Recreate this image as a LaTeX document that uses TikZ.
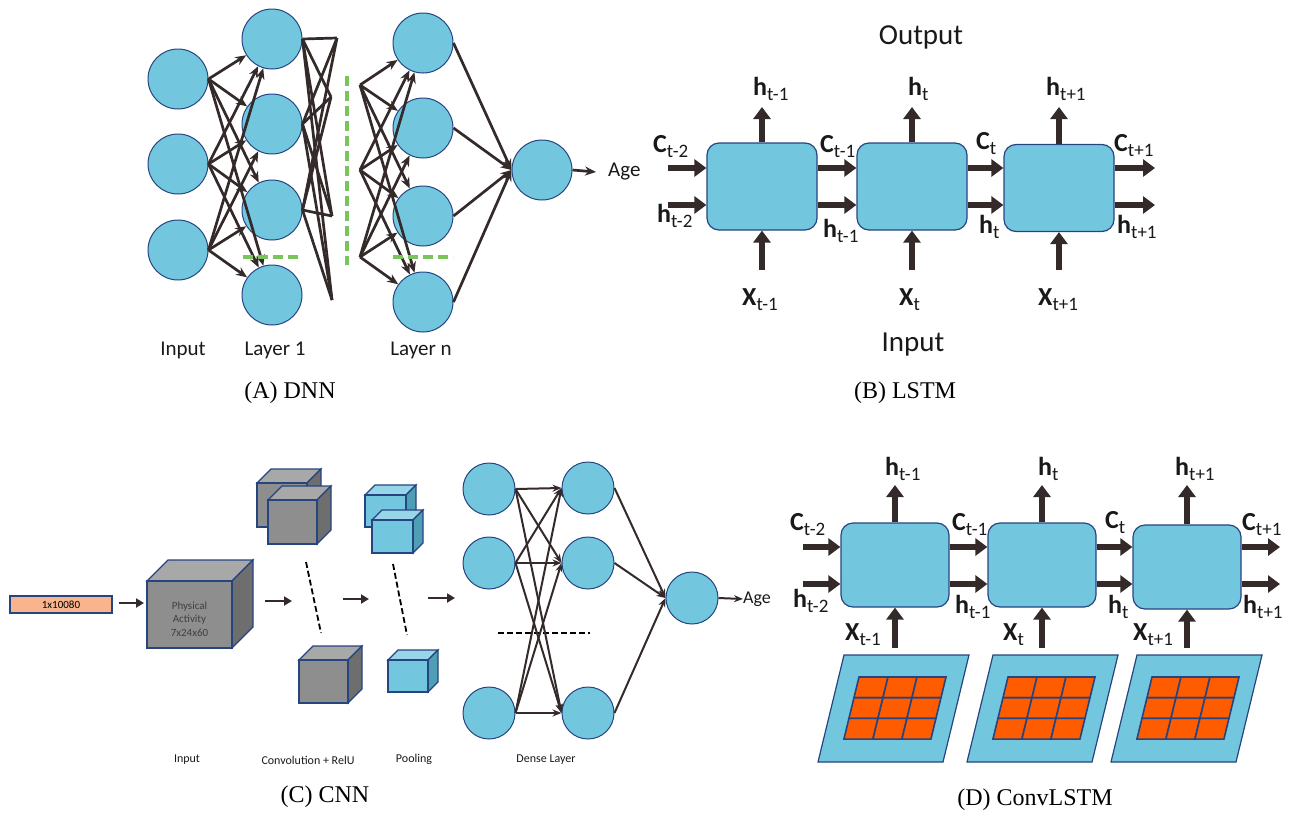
\documentclass[tikz,border=0pt]{standalone}
\usepackage{fontspec}
\setmainfont{Liberation Serif}
\newfontfamily\calib{Carlito}
\usetikzlibrary{arrows.meta,calc}
\definecolor{nodeblue}{RGB}{114,199,223}
\definecolor{nodeborder}{RGB}{38,68,128}
\definecolor{arrowc}{RGB}{52,42,42}
\definecolor{greendash}{RGB}{122,196,92}
\definecolor{cellorange}{RGB}{255,92,0}
\definecolor{peach}{RGB}{248,180,140}
\definecolor{cubefront}{RGB}{142,142,142}
\definecolor{cubetop}{RGB}{168,168,168}
\definecolor{cubeside}{RGB}{110,110,110}
\definecolor{pooltop}{RGB}{150,214,232}
\definecolor{poolside}{RGB}{78,158,182}
\definecolor{cubetext}{RGB}{64,64,64}
\newcommand\sbl[2]{{\bfseries #1}\raisebox{-5pt}{\fontsize{19}{19}\selectfont #2}}
% #1 x, #2 y (front top-left), #3 w, #4 h, #5 depth, #6 front, #7 top, #8 side
\newcommand\drawcube[8]{%
  \filldraw[fill=#7,draw=nodeborder,line width=1.2pt] (#1,#2) -- ++(#5,-#5) -- ++(#3,0) -- ++(-#5,#5) -- cycle;
  \filldraw[fill=#8,draw=nodeborder,line width=1.2pt] ({#1+#3},#2) -- ++(#5,-#5) -- ++(0,#4) -- ++(-#5,#5) -- cycle;
  \filldraw[fill=#6,draw=nodeborder,line width=1.2pt] (#1,#2) rectangle ++(#3,#4);
}
\begin{document}
\begin{tikzpicture}[x=1pt,y=-1pt,
  neuron/.style={circle,draw=nodeborder,fill=nodeblue,line width=1pt,minimum size=60pt,inner sep=0pt},
  neuronS/.style={neuron,minimum size=52pt},
  dnnarr/.style={draw=arrowc,line width=2.7pt,-{Stealth[length=11pt,width=9pt]}},
  dnnline/.style={draw=arrowc,line width=2.7pt},
  cnnarr/.style={draw=arrowc,line width=2pt,-{Stealth[length=9pt,width=7pt]}},
  stagearr/.style={draw=arrowc,line width=2.6pt,-{Triangle[length=8pt,width=9pt]}},
  gdash/.style={draw=greendash,line width=3.5pt,dash pattern=on 10pt off 5pt},
  kdash/.style={draw=black,line width=1.8pt,dash pattern=on 6pt off 3pt},
  lstmbox/.style={draw=nodeborder,fill=nodeblue,rounded corners=12pt,line width=1.2pt,minimum width=110pt,minimum height=87pt,inner sep=0pt},
  clstmbox/.style={lstmbox,minimum width=108pt,minimum height=84pt},
  bigarr/.style={draw=arrowc,line width=6pt,-{Triangle[length=12pt,width=17pt]}},
  lab/.style={font=\calib\fontsize{26}{26}\selectfont,anchor=base west,inner sep=0pt,text=black!90},
  dlab/.style={font=\calib\fontsize{21}{21}\selectfont,inner sep=0pt,text=black!90},
  bigtxt/.style={font=\calib\fontsize{29}{29}\selectfont,inner sep=0pt,text=black!90},
  smalltxt/.style={font=\calib\fontsize{12}{12}\selectfont,inner sep=0pt,text=black!90},
  captxt/.style={font=\fontsize{24}{24}\selectfont,inner sep=0pt,text=black}
]
\useasboundingbox (0,0) rectangle (1293,817);

% ================= (A) DNN =================
\node[neuron] (i1) at (178,79) {};
\node[neuron] (i2) at (178,164) {};
\node[neuron] (i3) at (178,250) {};
\node[neuron] (l1) at (272,39) {};
\node[neuron] (l2) at (272,124) {};
\node[neuron] (l3) at (272,210) {};
\node[neuron] (l4) at (272,295) {};
\node[neuron] (n1) at (423,43) {};
\node[neuron] (n2) at (423,128) {};
\node[neuron] (n3) at (423,216) {};
\node[neuron] (n4) at (423,302) {};
\node[neuron] (o) at (542,170) {};
\coordinate (e1) at (337,38);
\coordinate (e2) at (331,97);
\coordinate (e3) at (332,216);
\coordinate (e4) at (332,300);
\coordinate (s1) at (360,85);
\coordinate (s2) at (360,170);
\coordinate (s3) at (360,257);
\foreach \a in {1,2,3} \foreach \b in {1,2,3,4} \draw[dnnarr] (i\a.east) -- (l\b);
\foreach \a in {1,2,3} \foreach \b in {1,2,3,4} \draw[dnnline] (l\a.east) -- (e\b);
\foreach \a in {1,2,3} \foreach \b in {1,2,3,4} \draw[dnnarr] (s\a) -- (n\b);
\foreach \b in {1,2,3,4} \draw[dnnarr] (n\b.east) -- (o.west);
\node[dlab,anchor=west] (age1) at (608,172) {Age};
\draw[dnnarr] (o.east) -- ($(age1.west)+(-12,0)$);
\draw[gdash] (243,257) -- (302,257);
\draw[gdash] (393,257) -- (453,257);
\draw[gdash] (347,76) -- (347,265);
\node[dlab] (tin) at (183,350) {Input};
\node[dlab] (tl1) at (275,350) {Layer 1};
\node[dlab] (tln) at (421,350) {Layer n};
\node[captxt] (capA) at (290,393) {(A) DNN};

% ================= (B) LSTM =================
\node[lstmbox] (b1) at (762,186.5) {};
\node[lstmbox] (b2) at (912,186.5) {};
\node[lstmbox] (b3) at (1059,188) {};
\coordinate (Lc0) at (668,168);
\coordinate (Lh0) at (668,205);
\coordinate (Lc4) at (1155,168);
\coordinate (Lh4) at (1155,205);
\coordinate (Ltop) at (0,107);
\coordinate (Lbot) at (0,270);
\draw[bigarr] (Lc0) -- (b1.west |- Lc0);
\draw[bigarr] (Lh0) -- (b1.west |- Lh0);
\draw[bigarr] (b1.east |- Lc0) -- (b2.west |- Lc0);
\draw[bigarr] (b1.east |- Lh0) -- (b2.west |- Lh0);
\draw[bigarr] (b2.east |- Lc0) -- (b3.west |- Lc0);
\draw[bigarr] (b2.east |- Lh0) -- (b3.west |- Lh0);
\draw[bigarr] (b3.east |- Lc0) -- (Lc4);
\draw[bigarr] (b3.east |- Lh0) -- (Lh4);
\foreach \b in {b1,b2,b3} {
  \draw[bigarr] (\b.north) -- (\b.north |- Ltop);
  \draw[bigarr] (\b.south |- Lbot) -- (\b.south);
}
\node[lab] (Bh1) at (753,95) {\sbl{h}{t-1}};
\node[lab] (Bh2) at (908,95) {\sbl{h}{t}};
\node[lab] (Bh3) at (1046,95) {\sbl{h}{t+1}};
\node[lab] (Bc0) at (653,152) {\sbl{C}{t-2}};
\node[lab] (Bhh0) at (657,222) {\sbl{h}{t-2}};
\node[lab] (Bc1) at (820,152) {\sbl{C}{t-1}};
\node[lab] (Bhh1) at (823,237) {\sbl{h}{t-1}};
\node[lab] (Bc2) at (976,149) {\sbl{C}{t}};
\node[lab] (Bhh2) at (979,233) {\sbl{h}{t}};
\node[lab] (Bc3) at (1114,151) {\sbl{C}{t+1}};
\node[lab] (Bhh3) at (1117,233) {\sbl{h}{t+1}};
\node[lab] (Bx1) at (742,305) {\sbl{X}{t-1}};
\node[lab] (Bx2) at (899,305) {\sbl{X}{t}};
\node[lab] (Bx3) at (1038,305) {\sbl{X}{t+1}};
\node[bigtxt] (tout) at (921,37) {Output};
\node[bigtxt] (tinp) at (913,345) {Input};
\node[captxt] (capB) at (905,393) {(B) LSTM};

% ================= (C) CNN =================
\node[draw=nodeborder,fill=peach,line width=1.2pt,minimum width=102pt,minimum height=17pt,inner sep=0pt,font=\calib\fontsize{11}{11}\selectfont] (vec) at (61,604.5) {1x10080};
\coordinate (bigL) at (147,603);
\draw[stagearr] ($(vec.east)+(6,-1.5)$) -- ($(bigL)+(-3,0)$);
\drawcube{147}{581}{85}{67}{21}{cubefront}{cubetop}{cubeside}
\node[align=center,font=\calib\fontsize{11}{13.5}\selectfont,text=cubetext,inner sep=0pt] (pa) at (189.5,619) {Physical\\Activity\\7x24x60};
\coordinate (a1s) at (265,601); \coordinate (a1e) at (292,601);
\draw[stagearr] (a1s) -- (a1e);
\drawcube{257}{483}{50}{44}{14}{cubefront}{cubetop}{cubeside}
\drawcube{268}{500}{49}{44}{14}{cubefront}{cubetop}{cubeside}
\drawcube{299}{660}{49}{43}{14}{cubefront}{cubetop}{cubeside}
\draw[kdash] (306,562) -- (321,633);
\coordinate (a2s) at (343,599); \coordinate (a2e) at (369,599);
\draw[stagearr] (a2s) -- (a2e);
\drawcube{365}{495}{41}{32}{10}{nodeblue}{pooltop}{poolside}
\drawcube{372}{520}{41}{33}{10}{nodeblue}{pooltop}{poolside}
\drawcube{388}{660}{40}{32}{10}{nodeblue}{pooltop}{poolside}
\draw[kdash] (393,564) -- (407,635);
\coordinate (a3s) at (428,598); \coordinate (a3e) at (455,598);
\draw[stagearr] (a3s) -- (a3e);
\node[neuronS] (d1) at (489,489) {};
\node[neuronS] (d2) at (489,563) {};
\node[neuronS] (d3) at (489,713) {};
\node[neuronS] (f1) at (588,488) {};
\node[neuronS] (f2) at (588,563) {};
\node[neuronS] (f3) at (588,713) {};
\node[neuronS] (co) at (692,598) {};
\draw[kdash,line width=1.4pt] (498,633) -- (590,633);
\foreach \a in {1,2,3} \foreach \b in {1,2,3} \draw[cnnarr] (d\a.east) -- (f\b.west);
\foreach \b in {1,2,3} \draw[cnnarr] (f\b.east) -- (co.west);
\node[font=\calib\fontsize{18}{18}\selectfont,anchor=west,inner sep=0pt,text=black!90] (age2) at (743,599) {Age};
\draw[cnnarr] (co.east) -- (age2.west);
\node[smalltxt] (cin) at (187,760) {Input};
\node[smalltxt] (ccv) at (308,760) {Convolution + RelU};
\node[smalltxt] (cpl) at (414,759) {Pooling};
\node[smalltxt] (cdl) at (546,760) {Dense Layer};
\node[captxt] (capC) at (325,797) {(C) CNN};

% ================= (D) ConvLSTM =================
\foreach \px in {844,993,1137} {
  \filldraw[fill=nodeblue,draw=nodeborder,line width=1.2pt] (\px,655) -- ({\px+125},655) -- ({\px+99},762) -- ({\px-26},762) -- cycle;
  \foreach \r in {0,1,2} \foreach \c in {0,1,2} {
    \filldraw[fill=cellorange,draw=nodeborder,line width=1.6pt]
      ({\px+15+\c*29-5.03*\r},{677+\r*20.7}) -- ++(29,0) -- ++(-5.03,20.7) -- ++(-29,0) -- cycle;
  }
}
\node[clstmbox] (c1) at (895,565) {};
\node[clstmbox] (c2) at (1042,565) {};
\node[clstmbox] (c3) at (1187,567) {};
\coordinate (Dc0) at (803,547);
\coordinate (Dh0) at (803,584);
\coordinate (Dc4) at (1280,547);
\coordinate (Dh4) at (1280,584);
\coordinate (Dtop) at (0,485);
\coordinate (Dbot) at (0,648);
\draw[bigarr] (Dc0) -- (c1.west |- Dc0);
\draw[bigarr] (Dh0) -- (c1.west |- Dh0);
\draw[bigarr] (c1.east |- Dc0) -- (c2.west |- Dc0);
\draw[bigarr] (c1.east |- Dh0) -- (c2.west |- Dh0);
\draw[bigarr] (c2.east |- Dc0) -- (c3.west |- Dc0);
\draw[bigarr] (c2.east |- Dh0) -- (c3.west |- Dh0);
\draw[bigarr] (c3.east |- Dc0) -- (Dc4);
\draw[bigarr] (c3.east |- Dh0) -- (Dh4);
\foreach \b in {c1,c2,c3} {
  \draw[bigarr] (\b.north) -- (\b.north |- Dtop);
  \draw[bigarr] (\b.south |- Dbot) -- (\b.south);
}
\node[lab] (Dh1) at (885,475) {\sbl{h}{t-1}};
\node[lab] (Dh2) at (1038,475) {\sbl{h}{t}};
\node[lab] (Dh3) at (1175,475) {\sbl{h}{t+1}};
\node[lab] (Dcc0) at (790,530) {\sbl{C}{t-2}};
\node[lab] (Dhh0) at (793,607) {\sbl{h}{t-2}};
\node[lab] (Dcc1) at (952,530) {\sbl{C}{t-1}};
\node[lab] (Dhh1) at (955,613) {\sbl{h}{t-1}};
\node[lab] (Dcc2) at (1105,528) {\sbl{C}{t}};
\node[lab] (Dhh2) at (1108,613) {\sbl{h}{t}};
\node[lab] (Dcc3) at (1242,530) {\sbl{C}{t+1}};
\node[lab] (Dhh3) at (1243,613) {\sbl{h}{t+1}};
\node[lab] (Dx1) at (845,640) {\sbl{X}{t-1}};
\node[lab] (Dx2) at (1003,640) {\sbl{X}{t}};
\node[lab] (Dx3) at (1133,640) {\sbl{X}{t+1}};
\node[captxt] (capD) at (1035,800) {(D) ConvLSTM};
\end{tikzpicture}
\end{document}
